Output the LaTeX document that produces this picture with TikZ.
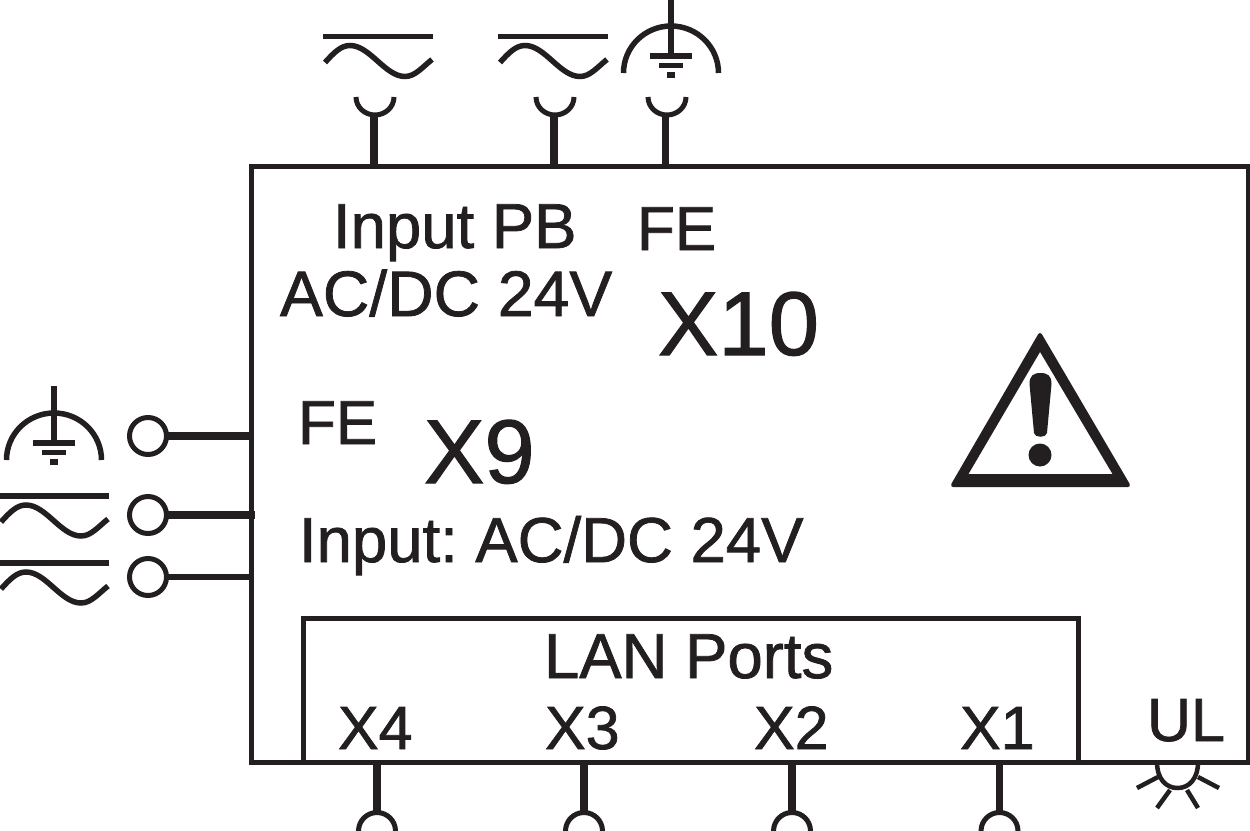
\documentclass[tikz,border=0pt]{standalone}
\usepackage{fontspec}
\setmainfont{Liberation Sans}
\newfontfamily\inkfont{Liberation Sans}[FakeBold=1.2]
\tikzset{
  lbl/.style={anchor=base west,inner sep=0pt,outer sep=0pt,text=ink,font=\inkfont\fontsize{#1}{#1}\selectfont},
  term/.style={circle,draw=ink,line width=5pt,minimum size=37pt,inner sep=0pt,outer sep=0pt},
  stub/.style={draw=ink,line width=7.5pt},
  thin/.style={draw=ink,line width=4.5pt},
  frame/.style={draw=ink,line width=5pt,inner sep=0pt,outer sep=0pt,rectangle},
  acsym/.pic={
    \draw[ink,line width=5.5pt] (0,0) -- (110,0);
    \draw[ink,line width=5.5pt] (2,26) .. controls (11,16) and (18,9) .. (27,9)
      .. controls (47,9) and (62,40) .. (82,40) .. controls (92,40) and (99,31) .. (109,23);
  },
  earthsym/.pic={
    \draw[ink,line width=5.5pt] (-47.5,0) arc[start angle=180,end angle=0,radius=47.5,y radius=-47];
    \draw[ink,line width=6.5pt] (0,-74) -- (0,-17);
    \draw[ink,line width=5.5pt] (-21,-17) -- (21,-17);
    \draw[ink,line width=5.5pt] (-12,-7.5) -- (12,-7.5);
    \draw[ink,line width=5.5pt] (-4,2) -- (4,2);
  },
  cup/.pic={
    \draw[ink,line width=5pt] (-19,-21) arc[start angle=180,end angle=0,x radius=19,y radius=18];
  }
}
\definecolor{ink}{HTML}{231F20}
\begin{document}
\begin{tikzpicture}[x=1pt,y=-1pt]
\useasboundingbox (0,0) rectangle (1250,830);
\clip (0,0) rectangle (1250,830);
% frames
\node[frame,minimum width=997pt,minimum height=596pt] (box) at (749.5,464) {};
\node[frame,minimum width=775pt,minimum height=144pt] (lan) at (690.5,690) {};
% top connectors
\coordinate (cupa) at (374,116);
\coordinate (cupb) at (554,116);
\coordinate (cupc) at (665.5,116);
\pic at (375,118) {cup};
\pic at (555,118) {cup};
\pic at (667,118) {cup};
\draw[stub] (cupa) -- (cupa |- box.north);
\draw[stub] (cupb) -- (cupb |- box.north);
\draw[stub] (cupc) -- (cupc |- box.north);
\pic at (323,36.5) {acsym};
\pic at (498,36.5) {acsym};
\pic at (671,73) {earthsym};
% left terminals
\node[term] (ta) at (148,436) {};
\node[term] (tb) at (148,515) {};
\node[term] (tc) at (148,577) {};
\draw[draw=ink,line width=8pt] (ta) -- (ta -| box.west);
\coordinate (tbend) at (255,515);
\draw[draw=ink,line width=8pt] (tb) -- (tbend);
\draw[draw=ink,line width=6pt] (tc) -- (tc -| box.west);
\pic at (54,460) {earthsym};
\pic at (-1,496) {acsym};
\pic at (-1,563) {acsym};
% bottom terminals
\node[term] (xa) at (377,831) {};
\node[term] (xb) at (584,831) {};
\node[term] (xc) at (792,831) {};
\node[term] (xd) at (999.5,831) {};
\draw[stub] (xa) -- (xa |- box.south);
\draw[stub] (xb) -- (xb |- box.south);
\draw[stub] (xc) -- (xc |- box.south);
\draw[stub] (xd) -- (xd |- box.south);
% UL lamp
\draw[thin] (1157,762) .. controls (1157,779) and (1166,788) .. (1177.5,788) .. controls (1189,788) and (1198,779) .. (1198,762);
\draw[thin] (1158,777) -- (1137,788);
\draw[thin] (1170,790) -- (1157,808);
\draw[thin] (1187,790) -- (1198,808);
\draw[thin] (1198,777) -- (1219,788);
% warning triangle
\fill[ink,even odd rule,draw=ink,line width=4pt,line join=round]
  (1040,335) -- (1128,485) -- (953,485) -- cycle
  (1040,348) -- (1116,476) -- (965,476) -- cycle;
\fill[ink] (1029.5,384) .. controls (1029.5,376) and (1033,373) .. (1040.5,373)
  .. controls (1048,373) and (1051.5,376) .. (1051.5,384)
  -- (1047,433) .. controls (1046.5,438) and (1034.5,438) .. (1034,433) -- cycle;
\fill[ink] (1040,455) circle[radius=11.5];
% labels
\node[lbl=63.5] (t1) at (333,248) {Input PB};
\node[lbl=64.3] (t2) at (280,316) {AC/DC 24V};
\node[lbl=62] (t3) at (637,250) {FE};
\node[lbl=90.5] (t4) at (658,355) {X10};
\node[lbl=62] (t5) at (298,444) {FE};
\node[lbl=90.5] (t6) at (424,483) {X9};
\node[lbl=63.5] (t7) at (299,562) {Input:\kern-6pt{} AC/DC 24V};
\node[lbl=63.5] (t8) at (544,678) {LAN Ports};
\node[lbl=61] (t9) at (338,749) {X4};
\node[lbl=61] (t10) at (545,749) {X3};
\node[lbl=61] (t11) at (754,749) {X2};
\node[lbl=61] (t12) at (960,749) {X1};
\node[lbl=61] (t13) at (1147,741) {UL};
\end{tikzpicture}
\end{document}
